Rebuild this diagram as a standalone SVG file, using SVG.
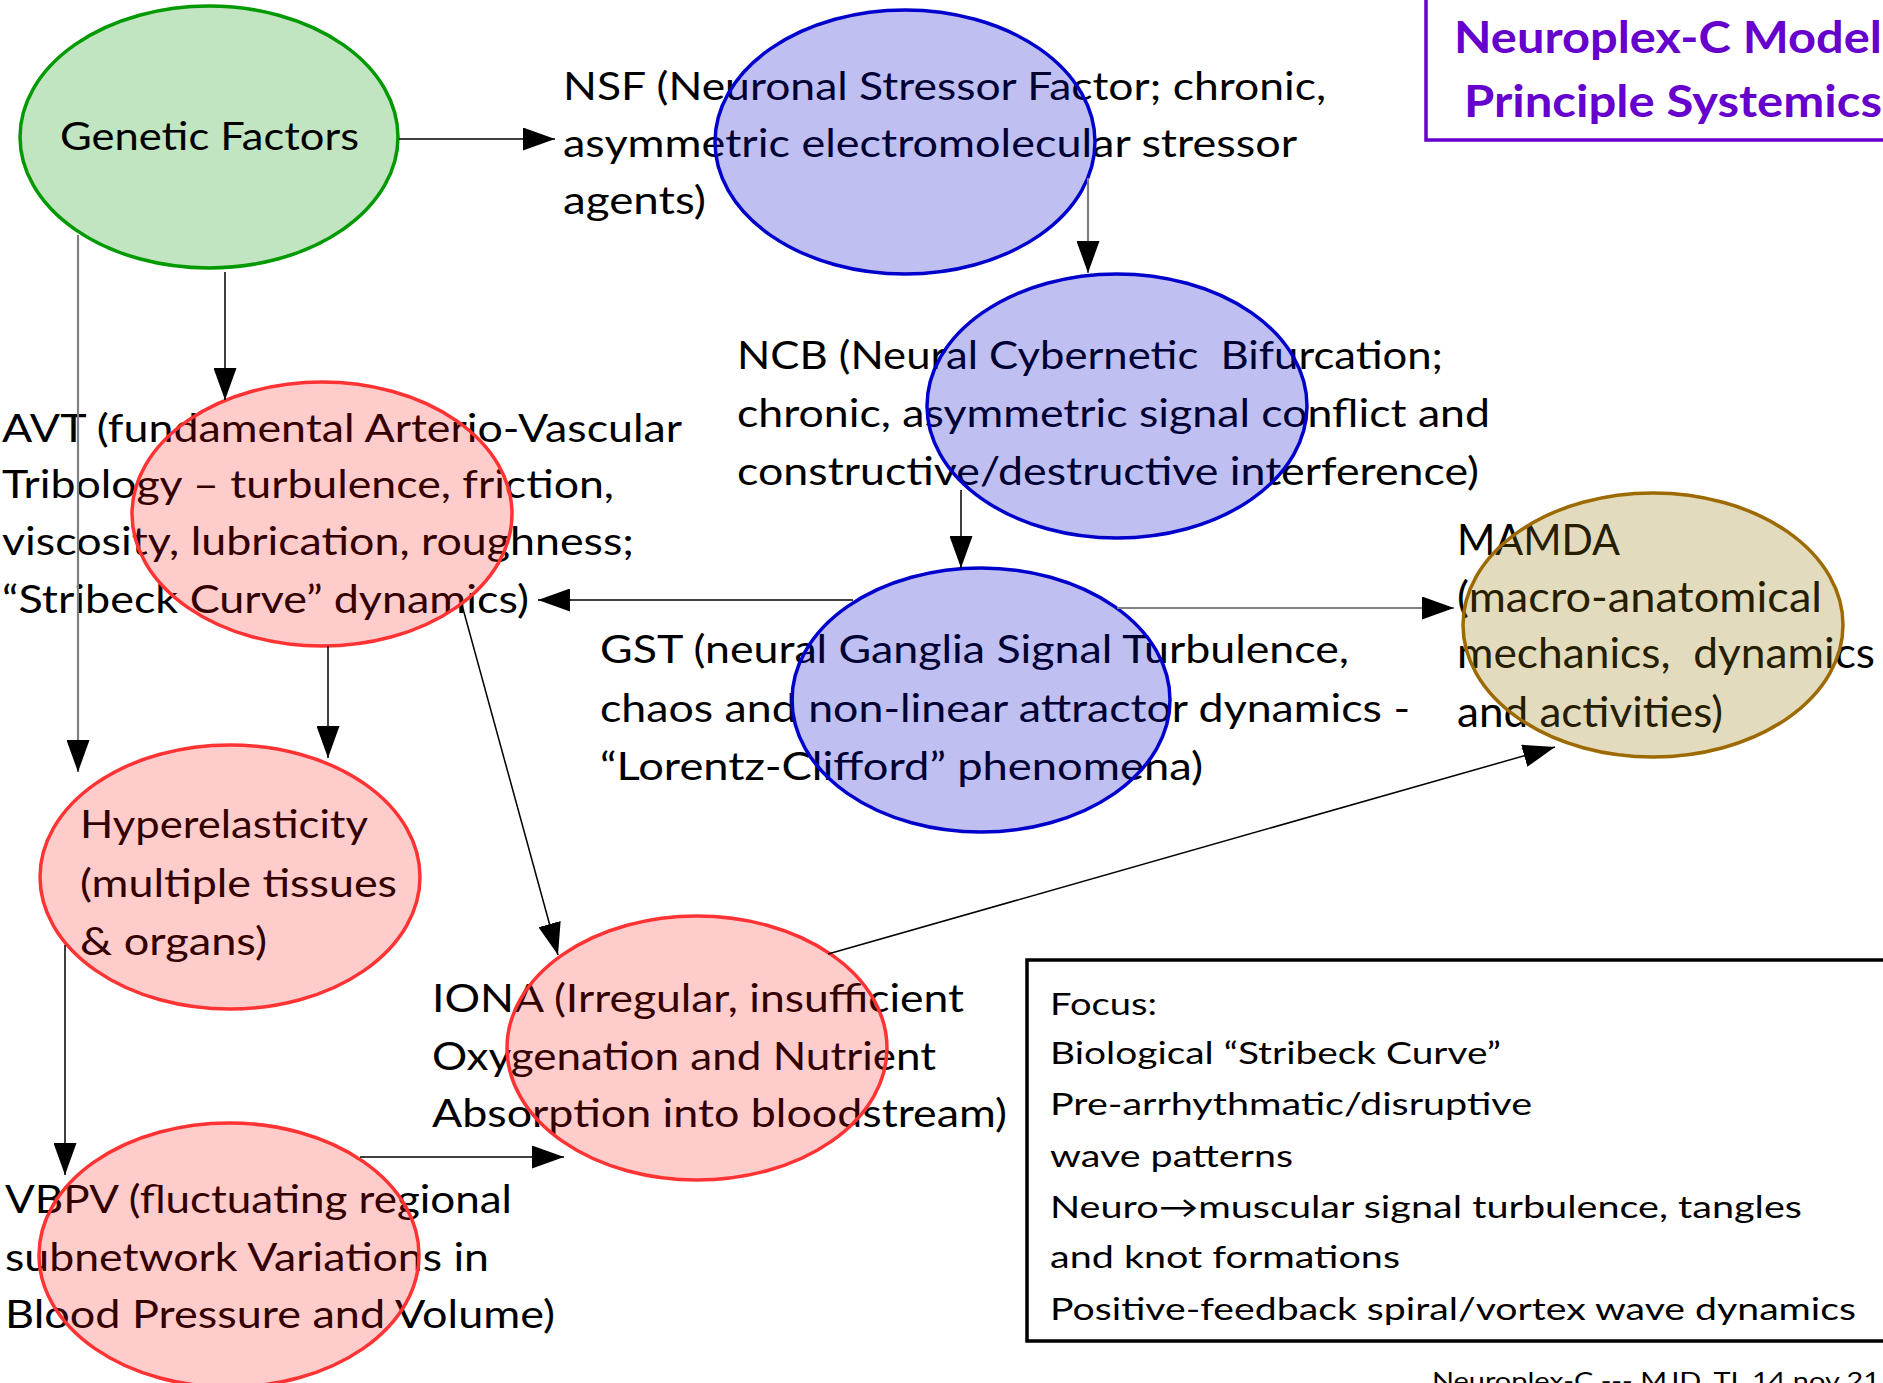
<svg xmlns="http://www.w3.org/2000/svg" width="1883" height="1383" viewBox="0 0 1883 1383">
<style>
  .lbl{font-family:Lato,"Liberation Sans",sans-serif;font-size:38px;fill:#000;}
  .mam{font-family:Lato,"Liberation Sans",sans-serif;font-size:42px;fill:#000;}
  .foc{font-family:Lato,"Liberation Sans",sans-serif;font-size:31px;fill:#000;}
  .ttl{font-family:Lato,"Liberation Sans",sans-serif;font-size:44px;font-weight:bold;fill:#6600cc;}
  .ftr{font-family:Lato,"Liberation Sans",sans-serif;font-size:24px;fill:#000;}
  .blue{fill:#0000c8;fill-opacity:0.25;stroke:#0000cc;stroke-width:3.5;}
  .pink{fill:#ff0000;fill-opacity:0.2;stroke:#ff3333;stroke-width:3.5;}
  .tan{fill:#947300;fill-opacity:0.26;stroke:#9c6a00;stroke-width:3.5;}
  .green{fill:#c1e4c1;stroke:#009900;stroke-width:3.5;}
  .c{fill:none;stroke:#000;stroke-width:1.5;marker-end:url(#ah);}
  .g{fill:none;stroke:#808080;stroke-width:2.2;marker-end:url(#ah);}
</style>
<defs>
  <marker id="ah" viewBox="0 0 32 23" refX="32" refY="11.5" markerWidth="32" markerHeight="23" markerUnits="userSpaceOnUse" orient="auto">
    <path d="M0,0 L32,11.5 L0,23 z" fill="#000"/>
  </marker>
</defs>
<rect x="0" y="0" width="1883" height="1383" fill="#fff"/>

<g id="genetic">
  <ellipse class="green" cx="209" cy="137" rx="189" ry="131"/>
  <text class="lbl" x="60" y="150" textLength="299" lengthAdjust="spacingAndGlyphs">Genetic Factors</text>
</g>

<g id="nsf">
  <text class="lbl" x="563" y="100" textLength="763" lengthAdjust="spacingAndGlyphs">NSF (Neuronal Stressor Factor; chronic,</text>
  <text class="lbl" x="563" y="157" textLength="734" lengthAdjust="spacingAndGlyphs">asymmetric electromolecular stressor</text>
  <text class="lbl" x="563" y="214" textLength="143" lengthAdjust="spacingAndGlyphs">agents)</text>
  <ellipse class="blue" cx="905" cy="142" rx="190" ry="132"/>
</g>

<g id="ncb">
  <text class="lbl" x="737" y="369" textLength="706" lengthAdjust="spacingAndGlyphs">NCB (Neural Cybernetic &#160;Bifurcation;</text>
  <text class="lbl" x="737" y="427" textLength="753" lengthAdjust="spacingAndGlyphs">chronic, asymmetric signal conflict and</text>
  <text class="lbl" x="737" y="485" textLength="742" lengthAdjust="spacingAndGlyphs">constructive/destructive interference)</text>
  <ellipse class="blue" cx="1117" cy="406" rx="190" ry="132"/>
</g>

<g id="avt">
  <text class="lbl" x="2" y="442" textLength="680" lengthAdjust="spacingAndGlyphs">AVT (fundamental Arterio-Vascular</text>
  <text class="lbl" x="2" y="498" textLength="612" lengthAdjust="spacingAndGlyphs">Tribology – turbulence, friction,</text>
  <text class="lbl" x="2" y="555" textLength="632" lengthAdjust="spacingAndGlyphs">viscosity, lubrication, roughness;</text>
  <text class="lbl" x="2" y="613" textLength="527" lengthAdjust="spacingAndGlyphs">“Stribeck Curve” dynamics)</text>
  <ellipse class="pink" cx="322" cy="514" rx="190" ry="132"/>
</g>

<g id="gst">
  <text class="lbl" x="600" y="663" textLength="749" lengthAdjust="spacingAndGlyphs">GST (neural Ganglia Signal Turbulence,</text>
  <text class="lbl" x="600" y="722" textLength="810" lengthAdjust="spacingAndGlyphs">chaos and non-linear attractor dynamics -</text>
  <text class="lbl" x="600" y="780" textLength="603" lengthAdjust="spacingAndGlyphs">“Lorentz-Clifford” phenomena)</text>
  <ellipse class="blue" cx="981" cy="700" rx="189" ry="132"/>
</g>

<g id="mamda">
  <text class="mam" x="1457" y="555" textLength="163" lengthAdjust="spacingAndGlyphs">MAMDA</text>
  <text class="mam" x="1457" y="612" textLength="365" lengthAdjust="spacingAndGlyphs">(macro-anatomical</text>
  <text class="mam" x="1457" y="668" textLength="418" lengthAdjust="spacingAndGlyphs">mechanics, &#160;dynamics</text>
  <text class="mam" x="1457" y="727" textLength="266" lengthAdjust="spacingAndGlyphs">and activities)</text>
  <ellipse class="tan" cx="1653" cy="625" rx="190" ry="132"/>
</g>

<g id="hyper">
  <text class="lbl" x="80" y="838" textLength="288" lengthAdjust="spacingAndGlyphs">Hyperelasticity</text>
  <text class="lbl" x="80" y="897" textLength="317" lengthAdjust="spacingAndGlyphs">(multiple tissues</text>
  <text class="lbl" x="80" y="955" textLength="187" lengthAdjust="spacingAndGlyphs">&amp; organs)</text>
  <ellipse class="pink" cx="230" cy="877" rx="190" ry="132"/>
</g>

<g id="iona">
  <text class="lbl" x="432" y="1012" textLength="532" lengthAdjust="spacingAndGlyphs">IONA (Irregular, insufficient</text>
  <text class="lbl" x="432" y="1070" textLength="504" lengthAdjust="spacingAndGlyphs">Oxygenation and Nutrient</text>
  <text class="lbl" x="432" y="1127" textLength="575" lengthAdjust="spacingAndGlyphs">Absorption into bloodstream)</text>
  <ellipse class="pink" cx="697" cy="1048" rx="190" ry="132"/>
</g>

<g id="vbpv">
  <text class="lbl" x="5" y="1213" textLength="507" lengthAdjust="spacingAndGlyphs">VBPV (fluctuating regional</text>
  <text class="lbl" x="5" y="1271" textLength="484" lengthAdjust="spacingAndGlyphs">subnetwork Variations in</text>
  <text class="lbl" x="5" y="1328" textLength="550" lengthAdjust="spacingAndGlyphs">Blood Pressure and Volume)</text>
  <ellipse class="pink" cx="229" cy="1255" rx="190" ry="132"/>
</g>

<g id="title">
  <rect x="1426" y="-5" width="470" height="145" fill="none" stroke="#6600cc" stroke-width="3.5"/>
  <text class="ttl" x="1454" y="53" textLength="428" lengthAdjust="spacingAndGlyphs">Neuroplex-C Model</text>
  <text class="ttl" x="1464" y="117" textLength="418" lengthAdjust="spacingAndGlyphs">Principle Systemics</text>
</g>

<g id="focus">
  <rect x="1027" y="960" width="870" height="381" fill="none" stroke="#000" stroke-width="3.5"/>
  <text class="foc" x="1050" y="1015" textLength="107" lengthAdjust="spacingAndGlyphs">Focus:</text>
  <text class="foc" x="1050" y="1064" textLength="451" lengthAdjust="spacingAndGlyphs">Biological “Stribeck Curve”</text>
  <text class="foc" x="1050" y="1115" textLength="482" lengthAdjust="spacingAndGlyphs">Pre-arrhythmatic/disruptive</text>
  <text class="foc" x="1050" y="1167" textLength="243" lengthAdjust="spacingAndGlyphs">wave patterns</text>
  <text class="foc" x="1050" y="1218" textLength="752" lengthAdjust="spacingAndGlyphs">Neuro→muscular signal turbulence, tangles</text>
  <text class="foc" x="1050" y="1268" textLength="350" lengthAdjust="spacingAndGlyphs">and knot formations</text>
  <text class="foc" x="1050" y="1320" textLength="806" lengthAdjust="spacingAndGlyphs">Positive-feedback spiral/vortex wave dynamics</text>
</g>

<g id="footer">
  <text class="ftr" x="1432" y="1389" textLength="448" lengthAdjust="spacingAndGlyphs">Neuroplex-C --- MJD, TL 14 nov 21</text>
</g>

<g id="connectors">
  <line class="c" x1="399" y1="139" x2="555" y2="139"/>
  <line class="c" x1="225" y1="272" x2="225" y2="400"/>
  <line class="g" x1="78" y1="235" x2="78" y2="772"/>
  <line class="c" x1="328" y1="646" x2="328" y2="758"/>
  <line class="g" x1="1088" y1="178" x2="1088" y2="273"/>
  <line class="c" x1="961" y1="490" x2="961" y2="568"/>
  <line class="c" x1="853" y1="600" x2="538" y2="600"/>
  <line class="g" x1="1117" y1="608" x2="1454" y2="608"/>
  <line class="c" x1="462" y1="605" x2="558" y2="955"/>
  <line class="c" x1="828" y1="954" x2="1555" y2="747"/>
  <line class="c" x1="65" y1="945" x2="65" y2="1175"/>
  <line class="c" x1="360" y1="1157" x2="564" y2="1157"/>
</g>
</svg>
